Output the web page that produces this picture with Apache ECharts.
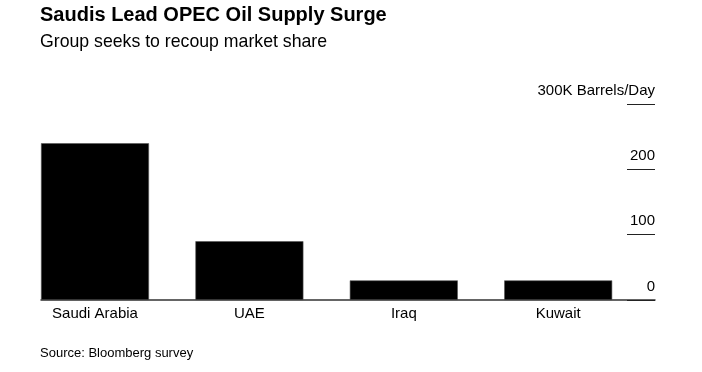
<!DOCTYPE html>
<html>
<head>
<meta charset="utf-8">
<script src="https://cdn.jsdelivr.net/npm/echarts@6/dist/echarts.min.js"></script>
<style>
html,body{margin:0;padding:0;background:#fff;}
#chart{width:702px;height:372px;}
</style>
</head>
<body>
<div id="chart"></div>
<script>
var categories = ['Saudi Arabia', 'UAE', 'Iraq', 'Kuwait'];
var supplyIncrease = [240, 90, 30, 30];
var yTicks = [0, 100, 200, 300];
var yUnitLabel = '300K Barrels/Day';

var FONT = '"Liberation Sans", Arial, Helvetica, sans-serif';
var yMin = yTicks[0], yMax = yTicks[yTicks.length - 1];
var chart = echarts.init(document.getElementById('chart'), null, {renderer: 'canvas'});
chart.setOption({
  animation: false,
  backgroundColor: '#fff',
  title: [
    {text: 'Saudis Lead OPEC Oil Supply Surge', left: 40, top: 5.5, padding: 0,
     textStyle: {fontFamily: FONT, fontSize: 20, fontWeight: 'bold', color: '#000'}},
    {text: 'Group seeks to recoup market share', left: 40, top: 33.5, padding: 0,
     textStyle: {fontFamily: FONT, fontSize: 17.7, fontWeight: 'normal', color: '#000'}},
    {text: 'Source: Bloomberg survey', left: 40, top: 346.5, padding: 0,
     textStyle: {fontFamily: FONT, fontSize: 13, fontWeight: 'normal', color: '#000'}}
  ],
  grid: [
    {left: 41, right: 43.4, top: 104, bottom: 72, containLabel: false},
    {left: 41, right: 47, top: 104, bottom: 72, containLabel: false}
  ],
  xAxis: [
    {
      type: 'category', gridIndex: 0,
      data: categories,
      axisLine: {show: false},
      axisTick: {show: false},
      axisLabel: {fontFamily: FONT, fontSize: 15, color: '#000', margin: 6,
                  padding: [0, 46.4, 0, 0], interval: 0}
    },
    {
      type: 'category', gridIndex: 1,
      data: categories,
      axisLine: {show: true, lineStyle: {color: '#333', width: 1.5}},
      axisTick: {show: false},
      axisLabel: {show: false}
    }
  ],
  yAxis: [
    {
      type: 'value', gridIndex: 0, min: yMin, max: yMax, interval: 100,
      show: false
    },
    {
      type: 'value', gridIndex: 1,
      position: 'right',
      min: yMin, max: yMax, interval: 100,
      splitLine: {show: false},
      axisLine: {show: false},
      axisTick: {show: true, inside: true, length: 28, lineStyle: {color: '#222', width: 1}},
      axisLabel: {
        inside: true, margin: 0, fontFamily: FONT, fontSize: 15, color: '#000',
        verticalAlign: 'bottom', padding: [0, 0, 6, 0],
        formatter: function (v) { return v === yMax ? yUnitLabel : String(v); }
      }
    }
  ],
  series: [
    {type: 'bar', xAxisIndex: 0, yAxisIndex: 0, data: supplyIncrease, barWidth: 108, barGap: 0,
     itemStyle: {color: '#000', borderColor: '#555', borderWidth: 0.6}, z: 2},
    {type: 'bar', xAxisIndex: 0, yAxisIndex: 0, data: categories.map(function(){return '-';}),
     barWidth: 46.4, barGap: 0, itemStyle: {color: 'rgba(0,0,0,0)'}}
  ]
});
</script>
</body>
</html>
